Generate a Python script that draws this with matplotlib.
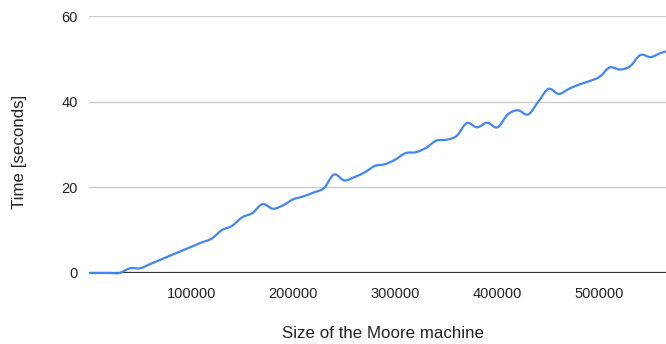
import matplotlib

matplotlib.use('Agg')
import matplotlib.pyplot as plt
import numpy as np
from matplotlib.patches import PathPatch
from matplotlib.path import Path

plt.rcParams['font.family'] = ['Liberation Sans', 'DejaVu Sans']

# Moore machine size vs. run time
sizes = [0, 10000, 20000, 30000, 40000, 50000, 60000, 70000, 80000, 90000,
         100000, 110000, 120000, 130000, 140000, 150000, 160000, 170000, 180000, 190000,
         200000, 210000, 220000, 230000, 240000, 250000, 260000, 270000, 280000, 290000,
         300000, 310000, 320000, 330000, 340000, 350000, 360000, 370000, 380000, 390000,
         400000, 410000, 420000, 430000, 440000, 450000, 460000, 470000, 480000, 490000,
         500000, 510000, 520000, 530000, 540000, 550000, 560000, 565000]
times = [0.0, 0.0, 0.0, 0.0, 1.1, 1.1, 2.1, 3.1, 4.1, 5.1,
         6.1, 7.1, 8.0, 10.0, 11.0, 13.0, 14.0, 16.1, 15.0, 15.8,
         17.2, 17.9, 18.8, 19.8, 23.0, 21.6, 22.4, 23.5, 25.0, 25.4,
         26.5, 28.0, 28.2, 29.2, 30.9, 31.1, 32.0, 35.0, 34.0, 35.1,
         34.0, 37.0, 38.0, 37.0, 40.0, 43.0, 41.8, 43.0, 44.0, 44.8,
         45.8, 48.0, 47.5, 48.3, 50.9, 50.4, 51.4, 51.7]
y_ticks = [0, 20, 40, 60]
x_ticks = [100000, 200000, 300000, 400000, 500000]


def smooth_path(xs, ys):
    # Catmull-Rom style curve expressed as cubic Bezier segments
    pts = np.column_stack([xs, ys]).astype(float)
    padded = np.vstack([pts[0], pts, pts[-1]])
    verts = [pts[0]]
    codes = [Path.MOVETO]
    for i in range(1, len(padded) - 2):
        p0, p1, p2, p3 = padded[i - 1], padded[i], padded[i + 1], padded[i + 2]
        verts += [p1 + (p2 - p0) / 6, p2 - (p3 - p1) / 6, p2]
        codes += [Path.CURVE4] * 3
    return Path(verts, codes)


fig = plt.figure(figsize=(6.66, 3.44), dpi=100)
ax = fig.add_axes([89 / 666, 1 - 273 / 344, 1 - 89 / 666, (273 - 16) / 344])

ax.add_patch(PathPatch(smooth_path(sizes, times), fill=False,
                       edgecolor='#4285f4', linewidth=1.6, capstyle='butt',
                       joinstyle='round', zorder=3, clip_on=False))

ax.set_xlim(0, 565000)
ax.set_ylim(0, 60)
ax.set_xticks(x_ticks)
ax.set_xticklabels([str(v) for v in x_ticks])
ax.set_yticks(y_ticks)
ax.set_yticklabels([str(v) for v in y_ticks])
ax.tick_params(length=0, labelsize=10.5, colors='#222222')
ax.tick_params(axis='x', pad=10)
ax.tick_params(axis='y', pad=8)

ax.grid(axis='y', color='#cccccc', linewidth=1)
ax.axhline(0, color='#333333', linewidth=1.6, zorder=2)
for side in ax.spines.values():
    side.set_visible(False)

fig.text(383 / 666, 1 - 334 / 344, 'Size of the Moore machine', ha='center',
         va='center', fontsize=12.2, color='#222222')
fig.text(20 / 666, 1 - 152 / 344, 'Time [seconds]', ha='center', va='center',
         rotation=90, fontsize=12.2, color='#222222')

fig.savefig('out.png', dpi=100)
